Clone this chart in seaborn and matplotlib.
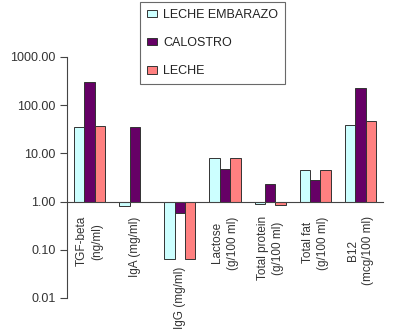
import numpy as np
import pandas as pd
import matplotlib
matplotlib.use("Agg")
import matplotlib.pyplot as plt
from matplotlib.ticker import FixedLocator, FuncFormatter
import seaborn as sns

categories = ["TGF-beta\n(ng/ml)", "IgA (mg/ml)", "IgG (mg/ml)", "Lactose\n(g/100 ml)",
              "Total protein\n(g/100 ml)", "Total fat\n(g/100 ml)", "B12\n(mcg/100 ml)"]
series = ["LECHE EMBARAZO", "CALOSTRO", "LECHE"]
leche_embarazo = [36, 0.80, 0.065, 8.1, 0.88, 4.5, 39]
calostro = [300, 36, 0.57, 4.8, 2.35, 2.75, 230]
leche = [37, 0.97, 0.065, 8.1, 0.87, 4.5, 46]
y_ticks = [0.01, 0.1, 1, 10, 100, 1000]
colors = ["#CCFFFF", "#660066", "#FF8080"]

rows = []
for s, vals in zip(series, [leche_embarazo, calostro, leche]):
    for c, v in zip(categories, vals):
        rows.append({"cat": c, "series": s, "logv": np.log10(v)})
df = pd.DataFrame(rows)

sns.set_style("white")
plt.rcParams["font.family"] = ["Liberation Sans", "DejaVu Sans"]

fig = plt.figure(figsize=(3.93, 3.36), dpi=100)
ax = fig.add_axes([67/393, 1-298/336, (383-67)/393, (298-57)/336])

sns.barplot(data=df, x="cat", y="logv", hue="series", palette=colors,
            saturation=1, width=0.69, gap=0, edgecolor="#333333", linewidth=0.7,
            ax=ax, order=categories, hue_order=series)

ax.set_ylim(np.log10(y_ticks[0]), np.log10(y_ticks[-1]))
ax.set_xlim(-0.5, len(categories) - 0.5)
ax.yaxis.set_major_locator(FixedLocator(np.log10(y_ticks)))
ax.yaxis.set_major_formatter(FuncFormatter(lambda v, p: f"{10**v:.2f}"))
ax.tick_params(axis="y", direction="out", length=5, width=0.8, color="#444444",
               labelsize=9, labelcolor="#333333", pad=3, left=True)

for s in ["top", "right"]:
    ax.spines[s].set_visible(False)
ax.spines["left"].set_color("#444444")
ax.spines["left"].set_linewidth(0.8)
ax.spines["bottom"].set_color("#444444")
ax.spines["bottom"].set_linewidth(0.8)
ax.spines["bottom"].set_position(("data", 0))

ax.set_xticks(range(len(categories)))
ax.set_xticklabels(categories, rotation=90, va="top", ha="center",
                   multialignment="center", linespacing=1.35)
ax.tick_params(axis="x", which="major", length=0, labelsize=8.5,
               labelcolor="#333333", pad=10.5)
ax.set_xticks(np.arange(-0.5, len(categories)), minor=True)
ax.tick_params(axis="x", which="minor", direction="out", length=4, width=0.8,
               color="#444444")
ax.xaxis.get_major_ticks()[2].set_pad(47)
ax.set_xlabel("")
ax.set_ylabel("")

handles, labels = ax.get_legend_handles_labels()
if ax.legend_:
    ax.legend_.remove()
leg = fig.legend(handles, labels, loc="upper left",
                 bbox_to_anchor=(140/393, 1-2/336), bbox_transform=fig.transFigure,
                 fontsize=9, frameon=True, fancybox=False, edgecolor="#444444",
                 handlelength=0.8, handleheight=0.55, handletextpad=0.5,
                 labelspacing=1.3, borderpad=0.55, borderaxespad=0)
leg.get_frame().set_linewidth(0.8)
for t in leg.get_texts():
    t.set_color("#222222")

fig.savefig("out.png", dpi=100)
